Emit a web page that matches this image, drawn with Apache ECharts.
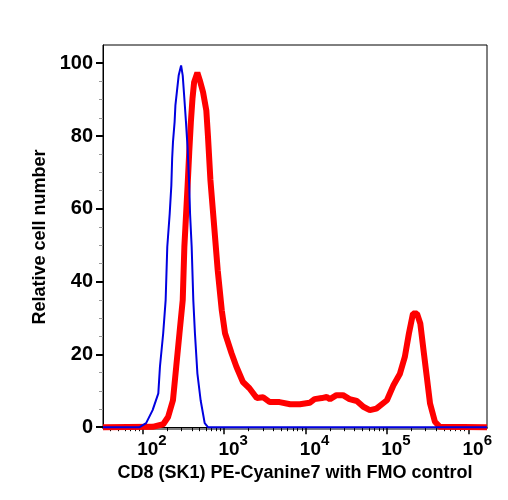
<!DOCTYPE html>
<html>
<head>
<meta charset="utf-8">
<script src="https://cdn.jsdelivr.net/npm/echarts@6/dist/echarts.min.js"></script>
<style>
html, body { margin: 0; padding: 0; background: #fff; }
#main { width: 508px; height: 500px; }
</style>
</head>
<body>
<div id="main"></div>
<script>
// x values are log10 of the fluorescence intensity (decades)
var fmoX = [1.51, 1.84, 1.96, 2.04, 2.12, 2.19, 2.21, 2.25, 2.28, 2.30, 2.33, 2.35, 2.36, 2.37, 2.39, 2.40, 2.44, 2.47,
	2.49, 2.51, 2.53, 2.55, 2.57, 2.58, 2.60, 2.62, 2.64, 2.67, 2.71, 2.76, 2.80, 3.50, 6.23]
var fmoY = [0, 0, 0, 1.1, 4.7, 9.3, 16.6, 25.8, 34.9, 49.5, 58.7, 66.4, 73.8, 78.3, 83.8, 88.4, 96.6, 99.4,
	96.6, 90.3, 83.8, 76.6, 66.4, 58.7, 49.5, 34.9, 25.8, 14.8, 7.4, 1.1, 0, 0, 0]

var cd8X = [1.51, 2.12, 2.25, 2.31, 2.37, 2.41, 2.45, 2.49, 2.51, 2.55, 2.57, 2.59, 2.61, 2.63, 2.67, 2.70, 2.74, 2.78,
	2.80, 2.83, 2.87, 2.92, 2.97, 3.01, 3.09, 3.15, 3.23, 3.31, 3.40, 3.48, 3.56, 3.68, 3.81, 3.93, 4.05, 4.11,
	4.20, 4.26, 4.30, 4.38, 4.46, 4.54, 4.63, 4.71, 4.79, 4.87, 5.00, 5.08, 5.16, 5.22, 5.27, 5.32, 5.37, 5.41,
	5.45, 5.49, 5.53, 5.59, 5.65, 6.23]
var cd8Y = [0, 0.1, 0.8, 2.8, 7.4, 16.6, 25.8, 34.9, 49.5, 66.4, 75.6, 83.8, 90.3, 94.8, 97.4, 95.3, 92.0, 87.0,
	80.0, 68.0, 57.0, 43.1, 32.1, 25.8, 20.3, 16.6, 12.4, 10.7, 8.0, 8.2, 6.9, 6.9, 6.3, 6.3, 6.7, 7.7,
	8.0, 8.3, 7.7, 8.8, 8.8, 7.7, 7.2, 5.6, 4.7, 5.1, 7.4, 11.5, 14.7, 19.3, 25.7, 31.2, 31.2, 28.5,
	21.1, 13.8, 6.5, 1.5, 0.1, 0]

var decades = [2, 3, 4, 5, 6]
var yMajor = [0, 20, 40, 60, 80, 100]

var xMin = 1.51, xMax = 6.23
var yMin = -0.5, yMax = 105
var font = '"Liberation Sans", Arial, Helvetica, sans-serif'

// minor log ticks (2..9 x 10^n)
var xMinor = []
for (var d = 1; d <= 6; d++) {
	for (var k = 2; k <= 9; k++) {
		var v = d + Math.log10(k)
		if (v > xMin && v < xMax) xMinor.push(v)
	}
}
var yMinor = []
for (var m = 5; m < 100; m += 5) {
	if (m % 20 != 0) yMinor.push(m)
}

function pairs(xs, ys) {
	var out = []
	for (var i = 0; i < xs.length; i++) out.push([xs[i], ys[i]])
	return out
}

var myChart = echarts.init(document.getElementById('main'))
var option = {
	animation : false,
	grid : {
		left : 103,
		right : 21,
		top : 45,
		bottom : 71,
		show : true,
		borderColor : '#000',
		borderWidth : 1
	},
	xAxis : [ {
		type : 'value',
		min : xMin,
		max : xMax,
		name : 'CD8 (SK1) PE-Cyanine7 with FMO control',
		nameLocation : 'middle',
		nameGap : 35,
		nameTextStyle : { fontFamily : font, fontWeight : 'bold', fontSize : 18, color : '#000' },
		splitLine : { show : false },
		axisLine : { show : true, lineStyle : { color : '#000', width : 1 } },
		axisTick : { show : true, customValues : decades, length : 7, lineStyle : { color : '#000', width : 1.5 } },
		axisLabel : {
			customValues : decades,
			margin : 4,
			padding : [0, 0, 0, 18],
			formatter : function(v) {
				return '{b|10}{s|' + Math.round(v) + '}'
			},
			rich : {
				b : { fontFamily : font, fontWeight : 'bold', fontSize : 19, color : '#000', lineHeight : 26, verticalAlign : 'bottom' },
				s : { fontFamily : font, fontWeight : 'bold', fontSize : 15, color : '#000', lineHeight : 26, verticalAlign : 'top' }
			}
		}
	}, {
		type : 'value',
		min : xMin,
		max : xMax,
		position : 'bottom',
		splitLine : { show : false },
		axisLine : { show : false },
		axisTick : { show : true, customValues : xMinor, length : 4, lineStyle : { color : '#000', width : 1 } },
		axisLabel : { show : false }
	} ],
	yAxis : [ {
		type : 'value',
		min : yMin,
		max : yMax,
		name : 'Relative cell number',
		nameLocation : 'middle',
		nameGap : 54,
		nameTextStyle : { fontFamily : font, fontWeight : 'bold', fontSize : 18, color : '#000' },
		splitLine : { show : false },
		axisLine : { show : true, lineStyle : { color : '#000', width : 1 } },
		axisTick : { show : true, customValues : yMajor, length : 7, lineStyle : { color : '#000', width : 2 } },
		axisLabel : {
			customValues : yMajor,
			margin : 10,
			fontFamily : font,
			fontWeight : 'bold',
			fontSize : 20,
			color : '#000'
		}
	}, {
		type : 'value',
		min : yMin,
		max : yMax,
		position : 'left',
		splitLine : { show : false },
		axisLine : { show : false },
		axisTick : { show : true, customValues : yMinor, length : 4, lineStyle : { color : '#999', width : 1 } },
		axisLabel : { show : false }
	} ],
	series : [ {
		name : 'CD8',
		type : 'line',
		xAxisIndex : 0,
		yAxisIndex : 0,
		showSymbol : false,
		lineStyle : { color : '#ff0000', width : 6 },
		z : 2,
		data : pairs(cd8X, cd8Y)
	}, {
		name : 'FMO',
		type : 'line',
		xAxisIndex : 0,
		yAxisIndex : 0,
		showSymbol : false,
		lineStyle : { color : '#0000e0', width : 2 },
		z : 3,
		data : pairs(fmoX, fmoY)
	} ]
}
myChart.setOption(option)
</script>
</body>
</html>
